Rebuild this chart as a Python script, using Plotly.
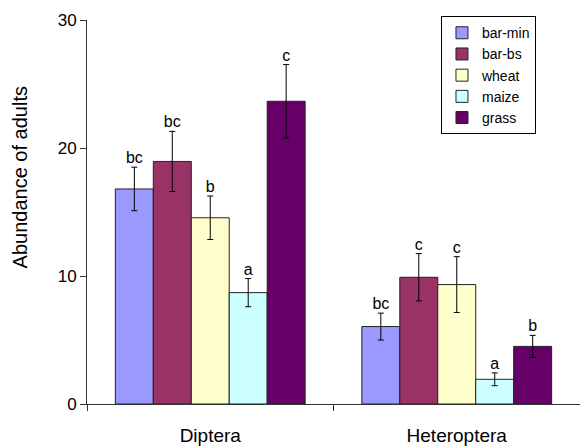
import numpy as np
import plotly.graph_objects as go

# Insect groups on the category axis
groups = ["Diptera", "Heteroptera"]

# Habitat series: mean abundance, standard error, significance letters
series = ["bar-min", "bar-bs", "wheat", "maize", "grass"]
colors = ["#9999FF", "#993366", "#FFFFCC", "#CCFFFF", "#660066"]

bar_min = [16.8, 6.05]
bar_bs = [18.95, 9.9]
wheat = [14.55, 9.33]
maize = [8.7, 1.93]
grass = [23.65, 4.5]

bar_min_err = [1.7, 1.05]
bar_bs_err = [2.35, 1.85]
wheat_err = [1.7, 2.18]
maize_err = [1.1, 0.5]
grass_err = [2.87, 0.86]

bar_min_sig = ["bc", "bc"]
bar_bs_sig = ["bc", "c"]
wheat_sig = ["b", "c"]
maize_sig = ["a", "a"]
grass_sig = ["c", "b"]

values = [bar_min, bar_bs, wheat, maize, grass]
errors = [bar_min_err, bar_bs_err, wheat_err, maize_err, grass_err]
letters = [bar_min_sig, bar_bs_sig, wheat_sig, maize_sig, grass_sig]

y_ticks = [0, 10, 20, 30]

FONT = "Liberation Sans, Arial, sans-serif"
BAR_W = 0.154
base = np.arange(len(groups))

fig = go.Figure()
for k, name in enumerate(series):
    xs = base + (k - (len(series) - 1) / 2) * BAR_W
    fig.add_trace(go.Bar(
        x=xs, y=values[k], width=BAR_W, name=name,
        marker=dict(color=colors[k], line=dict(color="#222222", width=1)),
        error_y=dict(type="data", array=errors[k], color="black",
                     thickness=1, width=3),
    ))
    tops = np.array(values[k]) + np.array(errors[k])
    fig.add_trace(go.Scatter(
        x=xs, y=tops, mode="text", text=letters[k],
        textposition="top center", showlegend=False, hoverinfo="skip",
        textfont=dict(family=FONT, size=16, color="black"),
    ))

fig.update_layout(
    width=580, height=446,
    margin=dict(l=87, r=0, t=20, b=37),
    paper_bgcolor="white", plot_bgcolor="white",
    barmode="overlay",
    font=dict(family=FONT, color="black"),
    showlegend=True,
    legend=dict(
        x=0.718, y=1.01, xanchor="left", yanchor="top",
        bgcolor="white", bordercolor="black", borderwidth=1,
        font=dict(family=FONT, size=14, color="black"),
        itemwidth=30, tracegroupgap=0,
    ),
    xaxis=dict(
        range=[-0.5, len(groups) - 0.5], showgrid=False, zeroline=False,
        showline=True, linecolor="#333333", linewidth=1,
        tickmode="array", tickvals=list(base), ticktext=groups,
        ticks="", ticklabelstandoff=14,
        tickfont=dict(family=FONT, size=19, color="black"),
        minor=dict(tickmode="array",
                   tickvals=list(np.arange(len(groups) + 1) - 0.5),
                   ticks="outside", ticklen=6, tickcolor="#333333"),
    ),
    yaxis=dict(
        range=[0, 30], showgrid=False, zeroline=False,
        showline=True, linecolor="#333333", linewidth=1,
        tickmode="array", tickvals=y_ticks, ticks="outside", ticklen=6,
        tickcolor="#333333",
        tickfont=dict(family=FONT, size=17, color="black"),
    ),
    annotations=[dict(
        text="Abundance of adults", textangle=-90,
        xref="paper", yref="paper", x=-0.136, y=0.59,
        xanchor="center", yanchor="middle", showarrow=False,
        font=dict(family=FONT, size=20, color="black"),
    )],
)

fig.write_html("out.html")
